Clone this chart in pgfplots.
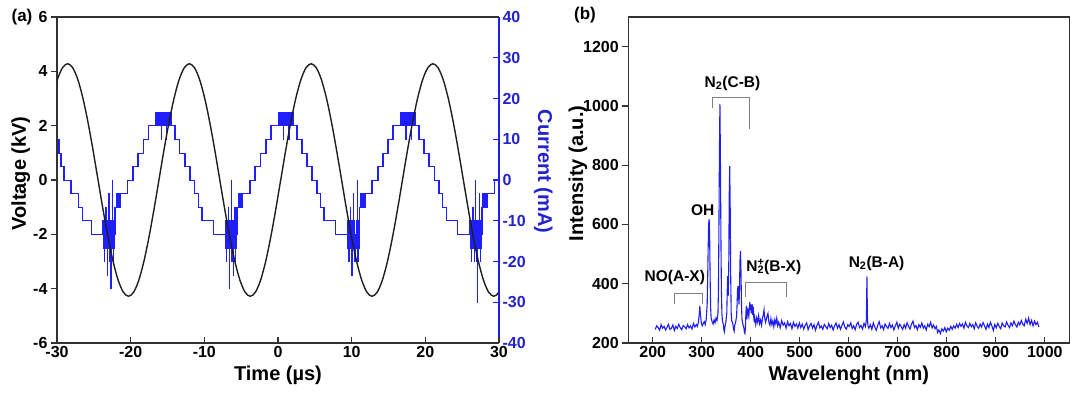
\documentclass[border=0pt]{standalone}
\usepackage{fontspec}
\setmainfont{Liberation Sans}
\usepackage{pgfplots}
\pgfplotsset{compat=1.18}
\definecolor{curblue}{RGB}{30,30,255}
\definecolor{axblue}{RGB}{35,35,205}
\definecolor{spblue}{RGB}{30,30,240}
\definecolor{axgray}{RGB}{50,50,50}
\pgfplotsset{
  base/.style={
    scale only axis, width=442pt, height=326pt, anchor=south west,
    axis line style={line width=1.5pt, axgray, -},
    tick label style={font=\bfseries\fontsize{16}{17}\selectfont},
    label style={font=\bfseries\fontsize{20}{22}\selectfont},
    major tick length=6pt,
    every tick/.style={line width=1.2pt, axgray},
    xtick align=inside, ytick align=outside,
    xtick pos=left, ytick pos=left,
    minor tick num=0,
  }
}
\begin{document}
\begin{tikzpicture}[font=\bfseries]
\path[use as bounding box] (0,0) rectangle (1080pt,394pt);
% ---------------- (a) current axis (right) ----------------
\begin{axis}[base, at={(57pt,51pt)},
  xmin=-30, xmax=30, ymin=-40, ymax=40,
  axis x line=none, axis y line*=right,
  axis line style={line width=1.5pt, spblue, -},
  every tick/.style={line width=1.2pt, spblue},
  ytick align=inside, ytick pos=right,
  ytick={-40,-30,-20,-10,0,10,20,30,40},
  yticklabels={-40,-30,-20,-10,0,10,20,30,40},
  yticklabel style={axblue},
  ylabel={Current (mA)},
  ylabel style={axblue, rotate=180, at={(axis description cs:1.10,0.526)}, anchor=center},
]
\addplot[const plot, line width=0.6pt, curblue] coordinates {
(-30.2,10) (-29.9,6.67) (-29.84,10) (-29.78,6.67) (-29.72,10) (-29.66,6.67) (-29.5,3.33) (-29.45,6.67) (-29.4,3.33) (-29.1,0) (-29.05,3.33) (-29.0,0) (-28.2,-3.33) (-28.15,0) (-28.1,-3.33) (-27.1,-6.67) (-26.6,-10)
(-25.40,-13.33) (-23.80,-10) (-23.74,-16.67) (-23.68,-10) (-23.62,-20) (-23.56,-13.33) (-23.50,-10) (-23.44,-16.67) (-23.38,-6.67) (-23.34,-16.67) (-23.28,-10) (-23.22,-23.33) (-23.18,-13.33) (-23.12,-10) (-23.06,-16.67) (-23.00,-3.33) (-22.96,-13.33) (-22.90,-20) (-22.84,-10) (-22.78,-16.67) (-22.72,-26.67) (-22.68,-13.33) (-22.62,-10) (-22.56,-16.67) (-22.50,0) (-22.46,-13.33) (-22.40,-20) (-22.34,-10) (-22.28,-16.67) (-22.22,-6.67) (-22.16,-13.33)
(-22.10,-6.67) (-22.00,-3.33) (-21.92,-6.67) (-21.80,-3.33) (-21.74,-6.67) (-21.60,-3.33) (-21.52,-6.67) (-21.40,-3.33) (-20.50,0) (-20.45,-3.33) (-20.40,0) (-19.75,3.33) (-19.70,0) (-19.65,3.33) (-19.05,6.67) (-19.00,3.33) (-18.95,6.67) (-18.35,10) (-18.30,6.67) (-18.25,10) (-17.65,13.33) (-17.60,10) (-17.55,13.33)
(-16.60,16.67) (-16.50,13.33) (-16.40,16.67) (-16.30,13.33) (-16.20,16.67) (-16.10,13.33) (-16.00,16.67) (-15.90,10) (-15.85,16.67) (-15.75,13.33) (-15.65,16.67) (-15.55,13.33) (-15.45,16.67) (-15.35,13.33) (-15.25,16.67) (-15.15,10) (-15.10,13.33) (-15.00,16.67) (-14.90,13.33) (-14.80,16.67) (-14.70,13.33) (-14.60,16.67) (-14.50,13.33)
(-14.10,10) (-14.05,13.33) (-14.00,10) (-13.45,6.67) (-13.40,10) (-13.35,6.67) (-12.75,3.33) (-12.70,6.67) (-12.65,3.33) (-12.05,0) (-12.00,3.33) (-11.95,0) (-11.40,-3.33) (-11.35,0) (-11.30,-3.33) (-10.85,-6.67) (-10.40,-10) (-10.35,-6.67) (-10.30,-10)
(-8.80,-13.33) (-7.20,-10) (-7.14,-16.67) (-7.08,-10) (-7.02,-20) (-6.96,-13.33) (-6.90,-10) (-6.84,-16.67) (-6.78,-6.67) (-6.74,-16.67) (-6.68,-10) (-6.62,-26.67) (-6.58,-13.33) (-6.52,-10) (-6.46,-16.67) (-6.40,0) (-6.36,-13.33) (-6.30,-20) (-6.24,-10) (-6.18,-16.67) (-6.12,-23.33) (-6.08,-13.33) (-6.02,-10) (-5.96,-16.67) (-5.90,-6.67) (-5.86,-13.33) (-5.80,-20) (-5.74,-10) (-5.68,-16.67) (-5.62,-6.67) (-5.56,-13.33)
(-5.50,-6.67) (-5.40,-3.33) (-5.32,-6.67) (-5.20,-3.33) (-5.14,-6.67) (-5.00,-3.33) (-4.92,-6.67) (-4.80,-3.33) (-3.90,0) (-3.85,-3.33) (-3.80,0) (-3.15,3.33) (-3.10,0) (-3.05,3.33) (-2.45,6.67) (-2.40,3.33) (-2.35,6.67) (-1.75,10) (-1.70,6.67) (-1.65,10) (-1.05,13.33) (-1.00,10) (-0.95,13.33)
(0.00,16.67) (0.10,13.33) (0.20,16.67) (0.30,13.33) (0.40,16.67) (0.50,13.33) (0.60,16.67) (0.70,10) (0.75,16.67) (0.85,13.33) (0.95,16.67) (1.05,13.33) (1.15,16.67) (1.25,13.33) (1.35,16.67) (1.45,10) (1.50,13.33) (1.60,16.67) (1.70,13.33) (1.80,16.67) (1.90,13.33) (2.00,16.67) (2.10,13.33)
(2.50,10) (2.55,13.33) (2.60,10) (3.15,6.67) (3.20,10) (3.25,6.67) (3.85,3.33) (3.90,6.67) (3.95,3.33) (4.55,0) (4.60,3.33) (4.65,0) (5.20,-3.33) (5.25,0) (5.30,-3.33) (5.75,-6.67) (6.20,-10) (6.25,-6.67) (6.30,-10)
(7.80,-13.33) (9.40,-10) (9.46,-16.67) (9.52,-10) (9.58,-20) (9.64,-13.33) (9.70,-10) (9.76,-16.67) (9.82,-6.67) (9.86,-16.67) (9.92,-10) (9.98,-23.33) (10.02,-13.33) (10.08,-10) (10.14,-16.67) (10.20,-3.33) (10.24,-13.33) (10.30,-20) (10.36,-10) (10.42,-16.67) (10.48,-20) (10.52,-13.33) (10.58,-10) (10.64,-16.67) (10.70,0) (10.74,-13.33) (10.80,-20) (10.86,-10) (10.92,-16.67) (10.98,-6.67) (11.04,-13.33)
(11.10,-6.67) (11.20,-3.33) (11.28,-6.67) (11.40,-3.33) (11.46,-6.67) (11.60,-3.33) (11.68,-6.67) (11.80,-3.33) (12.70,0) (12.75,-3.33) (12.80,0) (13.45,3.33) (13.50,0) (13.55,3.33) (14.15,6.67) (14.20,3.33) (14.25,6.67) (14.85,10) (14.90,6.67) (14.95,10) (15.55,13.33) (15.60,10) (15.65,13.33)
(16.60,16.67) (16.70,13.33) (16.80,16.67) (16.90,13.33) (17.00,16.67) (17.10,13.33) (17.20,16.67) (17.30,10) (17.35,16.67) (17.45,13.33) (17.55,16.67) (17.65,13.33) (17.75,16.67) (17.85,13.33) (17.95,16.67) (18.05,10) (18.10,13.33) (18.20,16.67) (18.30,13.33) (18.40,16.67) (18.50,13.33) (18.60,16.67) (18.70,13.33)
(19.10,10) (19.15,13.33) (19.20,10) (19.75,6.67) (19.80,10) (19.85,6.67) (20.45,3.33) (20.50,6.67) (20.55,3.33) (21.15,0) (21.20,3.33) (21.25,0) (21.80,-3.33) (21.85,0) (21.90,-3.33) (22.35,-6.67) (22.80,-10) (22.85,-6.67) (22.90,-10)
(24.40,-13.33) (26.00,-10) (26.06,-16.67) (26.12,-10) (26.18,-20) (26.24,-13.33) (26.30,-10) (26.36,-16.67) (26.42,-6.67) (26.46,-16.67) (26.52,-10) (26.58,-20) (26.62,-13.33) (26.68,-10) (26.74,-16.67) (26.80,0) (26.84,-13.33) (26.90,-20) (26.96,-10) (27.02,-16.67) (27.08,-30) (27.12,-13.33) (27.18,-10) (27.24,-16.67) (27.30,-3.33) (27.34,-13.33) (27.40,-20) (27.46,-10) (27.52,-16.67) (27.58,-6.67) (27.64,-13.33)
(27.70,-6.67) (27.80,-3.33) (27.88,-6.67) (28.00,-3.33) (28.06,-6.67) (28.20,-3.33) (28.28,-6.67) (28.40,-3.33) (29.30,0) (29.35,-3.33) (29.40,0) (30.2,0)
};
\end{axis}
% ---------------- (a) voltage axis (left) ----------------
\begin{axis}[base, at={(57pt,51pt)},
  xmin=-30, xmax=30, ymin=-6, ymax=6,
  axis x line*=box, axis y line*=left,
  xtick={-30,-20,-10,0,10,20,30},
  xticklabels={-30,-20,-10,0,10,20,30},
  ytick={-6,-4,-2,0,2,4,6},
  yticklabels={-6,-4,-2,0,2,4,6},
  xlabel={Time (µs)}, ylabel={Voltage (kV)},
  xlabel style={at={(axis description cs:0.5,-0.098)}, anchor=center},
  ylabel style={at={(axis description cs:-0.082,0.52)}, anchor=center},
]
\addplot[line width=1.4pt, black!88, smooth] coordinates {
(-30.626,3.026) (-29.938,3.707) (-29.249,4.134) (-28.560,4.280) (-27.871,4.134) (-27.183,3.707) (-26.494,3.026) (-25.805,2.140) (-25.116,1.108) (-24.428,0) (-23.739,-1.108) (-23.050,-2.140) (-22.361,-3.026) (-21.673,-3.707) (-20.984,-4.134) (-20.295,-4.280) (-19.606,-4.134) (-18.918,-3.707) (-18.229,-3.026) (-17.540,-2.140) (-16.851,-1.108) (-16.163,0) (-15.474,1.108) (-14.785,2.140) (-14.096,3.026) (-13.408,3.707) (-12.719,4.134) (-12.030,4.280) (-11.341,4.134) (-10.653,3.707) (-9.964,3.026) (-9.275,2.140) (-8.586,1.108) (-7.898,0) (-7.209,-1.108) (-6.520,-2.140) (-5.831,-3.026) (-5.143,-3.707) (-4.454,-4.134) (-3.765,-4.280) (-3.076,-4.134) (-2.388,-3.707) (-1.699,-3.026) (-1.010,-2.140) (-0.321,-1.108) (0.368,0) (1.056,1.108) (1.745,2.140) (2.434,3.026) (3.123,3.707) (3.811,4.134) (4.500,4.280) (5.189,4.134) (5.878,3.707) (6.566,3.026) (7.255,2.140) (7.944,1.108) (8.633,0) (9.321,-1.108) (10.010,-2.140) (10.699,-3.026) (11.388,-3.707) (12.076,-4.134) (12.765,-4.280) (13.454,-4.134) (14.143,-3.707) (14.831,-3.026) (15.520,-2.140) (16.209,-1.108) (16.898,0) (17.586,1.108) (18.275,2.140) (18.964,3.026) (19.653,3.707) (20.341,4.134) (21.030,4.280) (21.719,4.134) (22.408,3.707) (23.096,3.026) (23.785,2.140) (24.474,1.108) (25.163,0) (25.851,-1.108) (26.540,-2.140) (27.229,-3.026) (27.918,-3.707) (28.606,-4.134) (29.295,-4.280) (29.984,-4.134) (30.673,-3.707)
};
\end{axis}
\node[font=\bfseries\fontsize{17}{18}\selectfont] at (22pt,376.5pt) {(a)};
% ---------------- (b) spectrum ----------------
\begin{axis}[base, at={(628.3pt,51pt)}, width=441pt,
  xmin=150, xmax=1050, ymin=200, ymax=1300,
  xtick={200,300,400,500,600,700,800,900,1000},
  xticklabels={200,300,400,500,600,700,800,900,1000},
  ytick={200,400,600,800,1000,1200},
  yticklabels={200,400,600,800,1000,1200},
  xlabel={Wavelenght (nm)}, ylabel={Intensity (a.u.)},
  xlabel style={at={(axis description cs:0.5,-0.098)}, anchor=center},
  ylabel style={at={(axis description cs:-0.114,0.52)}, anchor=center},
]
\addplot[line width=1.1pt, spblue] coordinates {
(205,246) (208,258) (211,252) (214,243) (217,262) (220,250) (223,256) (226,244) (229,253) (232,263) (235,246) (238,250) (241,261) (244,242) (247,256) (250,249) (253,263) (256,252) (259,245) (262,259) (265,255) (268,248) (271,262) (274,251) (277,258) (280,247) (283,266) (286,254) (289,262)
(291,256) (293,270) (295,300) (296,325) (297,300) (299,268) (301,258) (303,266) (305,272) (307,262) (309,280) (311,330) (312,420) (313,520) (314,600) (315,618) (316,560) (317,420) (318,320) (319,285) (321,272) (323,264) (325,278) (327,268) (329,284) (331,276) (333,300) (334,380) (335,600) (336,850) (337,1006) (338,820) (339,560) (340,380) (341,300) (342,276) (344,262) (345,245) (346,238) (347,252) (349,270) (351,300) (352,380) (353,426) (354,360) (355,450) (356,700) (357,797) (358,650) (359,420) (360,300) (361,275) (363,268) (365,246) (366,240) (367,258) (369,270) (371,290) (372,330) (373,380) (374,392) (375,360) (376,330) (377,390) (378,480) (379,510) (380,440) (381,330) (382,280) (384,262) (386,250) (387,235) (388,232) (389,250) (390,300) (391,325) (392,280) (393,300) (394,310) (396,290) (397,320) (398,338) (399,310) (400,330) (401,300) (402,318) (403,330) (404,295) (405,322) (406,290) (407,270) (408,285) (410,262) (412,285) (414,270) (416,292) (418,265) (420,278) (422,260) (424,285) (426,300) (427,312) (428,290) (430,270) (432,282) (434,296) (435,300) (437,270) (439,260) (441,282) (443,262) (445,275) (447,255) (449,278) (451,265) (453,284) (455,258) (457,270) (460,252) (463,276) (466,260) (469,268) (472,250) (475,272) (478,258) (481,266) (484,248) (487,270) (490,256) (493,264) (496,250) (499,268)
(502,252) (505,264) (508,247) (511,260) (514,268) (517,245) (520,258) (523,266) (526,250) (529,262) (532,243) (535,259) (538,270) (541,251) (544,257) (547,246) (550,263) (553,255) (556,248) (559,266) (562,252) (565,260) (568,244) (571,258) (574,267) (577,250) (580,262) (583,246) (586,259) (589,271) (592,253) (595,247) (598,262) (601,256) (604,268) (607,249) (610,258) (613,245) (616,263) (619,270) (622,252) (625,259) (628,247) (631,266) (634,255) (636,280) (637,425) (638,290) (639,258) (641,250) (644,262) (647,246) (650,268) (653,254) (656,243) (659,260) (662,272) (665,251) (668,258) (671,245) (674,264) (677,256) (680,249) (683,266) (686,252) (689,261) (692,244) (695,258) (698,270)
(701,250) (704,263) (707,255) (710,246) (713,262) (716,250) (719,268) (722,256) (725,247) (728,264) (731,274) (734,252) (737,259) (740,245) (743,262) (746,253) (749,268) (752,250) (755,258) (758,244) (761,263) (764,255) (767,270) (770,251) (773,261) (776,248) (779,256) (781,235) (784,244) (787,232) (790,248) (793,240) (796,252) (799,238) (802,250) (805,243) (808,256) (811,246) (814,258) (817,250) (820,263) (823,252) (826,266) (829,256) (832,264) (835,250) (838,270) (841,258) (844,252) (847,266) (850,255) (853,262) (856,248) (859,268) (862,256) (865,250) (868,264) (871,254) (874,269) (877,258) (880,246) (883,264) (886,252) (889,270) (892,258) (895,242) (898,263) (901,251) (904,266) (907,256) (910,248) (913,268) (916,258) (919,254) (922,271) (925,260) (928,252) (931,268) (934,258) (937,274) (940,262) (943,254) (946,270) (949,261) (952,276) (955,264) (958,258) (961,280) (964,266) (967,284) (970,262) (973,276) (976,258) (979,274) (982,262) (985,270) (988,254)
};
\draw[gray, line width=1.3pt] (axis cs:322.2,992) -- (axis cs:322.2,1029) -- (axis cs:396.8,1029) -- (axis cs:396.8,921);
\draw[gray, line width=1.3pt] (axis cs:244,333) -- (axis cs:244,367) -- (axis cs:302,367) -- (axis cs:302,333);
\draw[gray, line width=1.3pt] (axis cs:389.5,355) -- (axis cs:389.5,403) -- (axis cs:473,403) -- (axis cs:473,355);
\begin{scope}[every node/.style={font=\bfseries\fontsize{15.5}{16}\selectfont}]
\node at (axis cs:362.6,1077) {N\textsubscript{2}(C-B)};
\node at (axis cs:245,422) {NO(A-X)};
\node at (axis cs:302,647) {OH};
\node at (axis cs:447,457) {N\rlap{\textsuperscript{+}}\textsubscript{2}(B-X)};
\node at (axis cs:656.7,469) {N\textsubscript{2}(B-A)};
\end{scope}
\end{axis}
\node[font=\bfseries\fontsize{17}{18}\selectfont] at (585pt,379pt) {(b)};
\end{tikzpicture}
\end{document}
